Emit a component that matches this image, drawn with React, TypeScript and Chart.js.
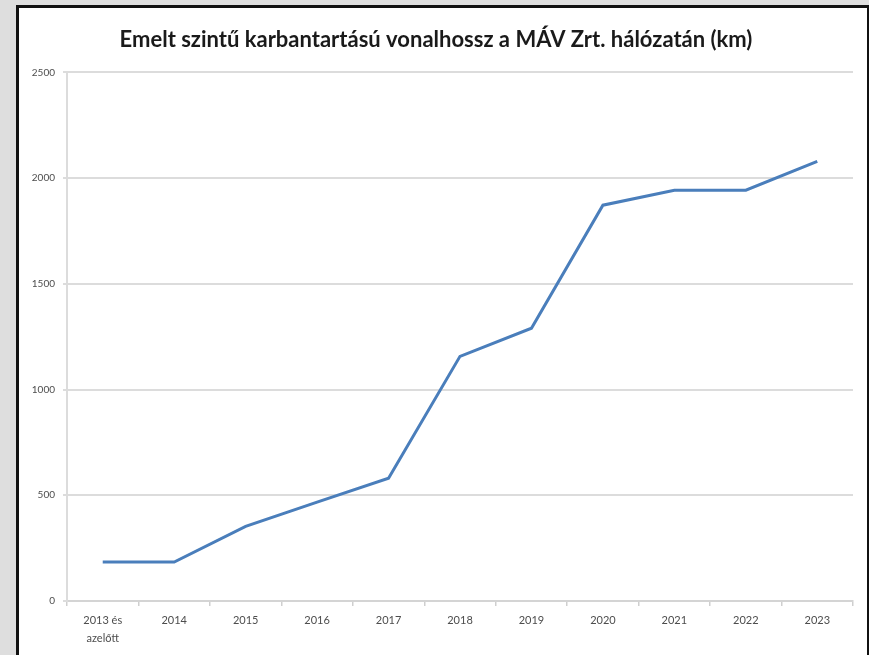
import React, { useEffect, useRef } from "react";
import { Chart, registerables } from "chart.js";

Chart.register(...registerables);

const TITLE = "Emelt szintű karbantartású vonalhossz a MÁV Zrt. hálózatán (km)";
const categories: (string | string[])[] = [
  ["2013 és", "azelőtt"],
  "2014",
  "2015",
  "2016",
  "2017",
  "2018",
  "2019",
  "2020",
  "2021",
  "2022",
  "2023",
];
const lengthKm = [184, 184, 353, 468, 581, 1157, 1290, 1872, 1943, 1943, 2079];
const yMax = 2500;
const yStep = 500;

export default function App() {
  const ref = useRef<HTMLCanvasElement | null>(null);

  useEffect(() => {
    if (!ref.current) return;
    const chart = new Chart(ref.current, {
      type: "line",
      data: {
        labels: categories,
        datasets: [
          {
            label: "Vonalhossz (km)",
            data: lengthKm,
            borderColor: "#4a7ebb",
            borderWidth: 3,
            pointRadius: 0,
            tension: 0,
            fill: false,
          },
        ],
      },
      options: {
        animation: false,
        responsive: false,
        maintainAspectRatio: false,
        layout: { padding: { left: 0, right: 13, top: 0, bottom: 0 } },
        plugins: {
          legend: { display: false },
          tooltip: { enabled: false },
          title: {
            display: true,
            text: TITLE,
            color: "#1a1a1a",
            font: { family: "Lato", size: 22, weight: "bold", lineHeight: 1.2 },
            padding: { top: 19, bottom: 19 },
          },
        },
        scales: {
          x: {
            type: "category",
            offset: true,
            grid: {
              offset: true,
              drawOnChartArea: false,
              drawTicks: true,
              tickLength: 5,
              color: "#cfcfcf",
              lineWidth: 1.5,
            },
            border: { display: true, color: "#d4d4d4", width: 2 },
            ticks: {
              color: "#4d4d4d",
              font: { family: "Lato", size: 11, lineHeight: 1.6 },
              padding: 6,
              maxRotation: 0,
              autoSkip: false,
            },
            afterFit: (scale: any) => {
              scale.height = 54;
            },
          },
          y: {
            min: 0,
            max: yMax,
            ticks: {
              stepSize: yStep,
              color: "#4d4d4d",
              font: { family: "Lato", size: 10 },
              padding: 8,
              callback: (v: any) => String(v),
            },
            grid: {
              color: "#dcdcdc",
              lineWidth: 2,
              tickLength: 4,
              drawTicks: true,
            },
            border: { display: true, color: "#dcdcdc", width: 2 },
            afterFit: (scale: any) => {
              scale.width = 48;
            },
          },
        },
      },
    });
    return () => chart.destroy();
  }, []);

  return (
    <div
      style={{
        position: "fixed",
        left: 0,
        top: 0,
        width: 869,
        height: 655,
        background: "#dedede",
        overflow: "hidden",
      }}
    >
      <div
        style={{
          position: "absolute",
          left: 16,
          top: 5,
          width: 848,
          height: 700,
          border: "3px solid #111",
          background: "#ffffff",
        }}
      >
        <canvas
          ref={ref}
          width={847}
          height={647}
          style={{ display: "block", width: 847, height: 647 }}
        />
      </div>
    </div>
  );
}
